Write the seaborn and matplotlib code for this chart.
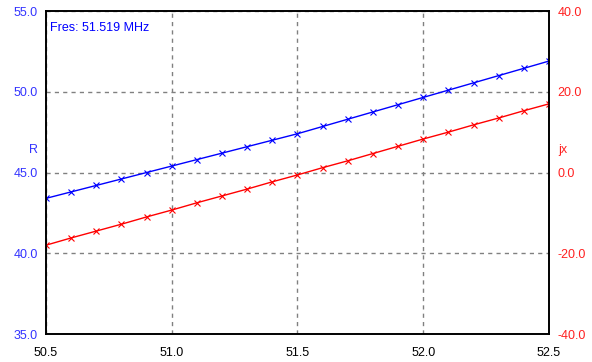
import seaborn as sns
import matplotlib.pyplot as plt
import pandas as pd

freq = [50.5, 50.6, 50.7, 50.8, 50.9, 51.0, 51.1, 51.2, 51.3, 51.4, 51.5,
        51.6, 51.7, 51.8, 51.9, 52.0, 52.1, 52.2, 52.3, 52.4, 52.5]
r_vals = [43.4, 43.8, 44.2, 44.6, 45.0, 45.4, 45.8, 46.2, 46.6, 47.0, 47.4,
          47.85, 48.3, 48.75, 49.2, 49.65, 50.1, 50.55, 51.0, 51.45, 51.9]
jx_vals = [-18.0, -16.2, -14.5, -12.8, -11.0, -9.3, -7.5, -5.8, -4.1, -2.3, -0.6,
           1.2, 2.9, 4.7, 6.5, 8.3, 10.0, 11.8, 13.5, 15.3, 17.0]
fres = "Fres: 51.519 MHz"

dane = pd.DataFrame({"f": freq, "R": r_vals, "jx": jx_vals})

sns.set_style("white")
plt.rcParams["font.family"] = ["Liberation Sans", "DejaVu Sans"]
plt.rcParams["font.size"] = 9

fig = plt.figure(figsize=(5.92, 3.62), dpi=100)
ax = fig.add_axes([0.0777, 0.0773, 0.8496, 0.8923])
ax2 = ax.twinx()

sns.lineplot(data=dane, x="f", y="R", ax=ax, color="#0000ff", marker="x",
             markersize=5, markeredgewidth=0.8, markeredgecolor="#0000ff", linewidth=1)
sns.lineplot(data=dane, x="f", y="jx", ax=ax2, color="#ff0000", marker="x",
             markersize=5, markeredgewidth=0.8, markeredgecolor="#ff0000", linewidth=1)

ax.set_xlim(50.5, 52.5)
ax.set_ylim(35, 55)
ax2.set_ylim(-40, 40)
ax.set_xticks([50.5, 51.0, 51.5, 52.0, 52.5])
ax.set_xticklabels(["50.5", "51.0", "51.5", "52.0", "52.5"])
ax.set_yticks([35, 40, 45, 50, 55])
ax.set_yticklabels(["35.0", "40.0", "45.0", "50.0", "55.0"])
ax2.set_yticks([-40, -20, 0, 20, 40])
ax2.set_yticklabels(["-40.0", "-20.0", "0.0", "20.0", "40.0"])

ax.grid(True, color="#808080", linestyle=(0, (3, 3)), linewidth=1)
ax.tick_params(axis="y", length=0, pad=6, colors="#3333ff")
ax.tick_params(axis="x", length=0, pad=9, colors="black")
ax2.tick_params(axis="y", length=0, pad=6, colors="#ff2020")

for sp in list(ax.spines.values()) + list(ax2.spines.values()):
    sp.set_color("black")
    sp.set_linewidth(1.2)

ax.set_xlabel("")
ax.set_ylabel("")
ax2.set_ylabel("")
fig.text(33 / 592, 1 - 150 / 362, "R", color="#3333ff", ha="center", va="center", fontsize=9)
fig.text(563 / 592, 1 - 150 / 362, "jx", color="#ff2020", ha="center", va="center", fontsize=9)
ax.text(0.008, 0.965, fres, transform=ax.transAxes, color="#0000ff",
        ha="left", va="top", fontsize=9)

fig.savefig("out.png", dpi=100)
